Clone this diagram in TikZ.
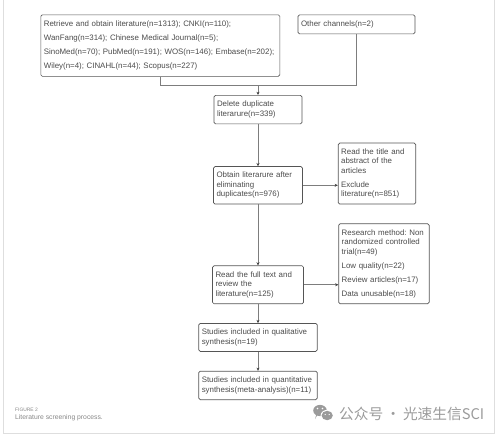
\documentclass[tikz,border=0pt]{standalone}
\usepackage{fontspec}
\setmainfont{Liberation Sans}
\newfontfamily\cjkfont{Noto Sans CJK SC}
\usepackage{tikz}
\usetikzlibrary{arrows.meta,positioning,calc}
\definecolor{boxline}{RGB}{85,85,85}
\definecolor{boxtext}{RGB}{75,75,75}
\definecolor{arrline}{RGB}{125,125,125}
\definecolor{framegray}{RGB}{222,222,222}
\definecolor{capgray}{RGB}{135,135,135}
\definecolor{markgray}{RGB}{155,155,155}
\frenchspacing
\tikzset{
  flowbox/.style={rectangle,rounded corners=1.5pt,draw=boxline,line width=0.7pt,align=left,
    text=boxtext,font=\fontsize{7.9}{9.6}\selectfont,inner xsep=3pt,inner ysep=0pt,anchor=north west},
  arr/.style={-{Stealth[length=3.2pt,width=3pt,color=black!75]},line width=0.9pt,color=arrline},
  plainline/.style={line width=0.9pt,color=arrline},
  captext/.style={color=capgray,inner sep=0pt,anchor=west}
}
\begin{document}
\begin{tikzpicture}
  \useasboundingbox (0pt,0pt) rectangle (498pt,-434pt);
  \node[draw=framegray,line width=0.8pt,minimum width=491pt,minimum height=434pt,anchor=north west] (frame) at (2.5pt,1.5pt) {};

  \node[flowbox,text width=233pt,minimum height=61.5pt] (retrieve) at (40.5pt,-14.5pt)
    {Retrieve and obtain literature(n=1313); CNKI(n=110);\\[4.4pt]
     WanFang(n=314); Chinese Medical Journal(n=5);\\[4.4pt]
     SinoMed(n=70); PubMed(n=191); WOS(n=146); Embase(n=202);\\[4.4pt]
     Wiley(n=4); CINAHL(n=44); Scopus(n=227)};
  \node[flowbox,text width=111pt,minimum height=19pt,right=17.5pt of retrieve.north east,anchor=north west] (other) {Other channels(n=2)};

  \coordinate (join) at (258pt,-85.5pt);

  \node[flowbox,text width=82pt,minimum height=28.5pt,below=9.5pt of join,anchor=north] (delete) {Delete duplicate\\literarure(n=339)};
  \node[flowbox,text width=83pt,minimum height=37.5pt,below=42pt of delete,anchor=north] (obtain) {Obtain literarure after\\eliminating\\duplicates(n=976)};
  \node[flowbox,text width=71.5pt,minimum height=61pt,right=35pt of obtain.south east,anchor=south west] (title)
    {Read the title and\\abstract of the\\articles\\[4.4pt]Exclude\\literature(n=851)};
  \node[flowbox,text width=85pt,minimum height=38pt,below=61pt of obtain,anchor=north] (full) {Read the full text and\\review the\\literature(n=125)};
  \node[flowbox,text width=84.5pt,minimum height=80pt,right=34.5pt of full.south east,anchor=south west] (reasons)
    {Research method: Non\\randomized controlled\\trial(n=49)\\[4.4pt]Low quality(n=22)\\[4.4pt]Review articles(n=17)\\[4.4pt]Data unusable(n=18)};
  \node[flowbox,text width=112.5pt,minimum height=28pt,below=19pt of full,anchor=north] (qual) {Studies included in qualitative\\synthesis(n=19)};
  \node[flowbox,text width=112.5pt,minimum height=28.5pt,below=19pt of qual,anchor=north] (quant) {Studies included in quantitative\\synthesis(meta-analysis)(n=11)};

  \draw[plainline] (retrieve.south) |- (join);
  \draw[plainline] (other.south) |- (join);
  \draw[arr] (join)--(delete);
  \draw[arr] (delete)--(obtain);
  \draw[arr] (obtain.east)--(obtain.east -| title.west);
  \draw[arr] (obtain)--(full);
  \draw[arr] (full.east)--(full.east -| reasons.west);
  \draw[arr] (full)--(qual);
  \draw[arr] (qual)--(quant);

  \node[captext,font=\fontsize{4.9}{5}\selectfont] (figlabel) at (15pt,-409.5pt) {FIGURE 2};
  \node[captext,font=\fontsize{6.8}{7}\selectfont,below=3pt of figlabel.south west,anchor=north west] (figcap) {Literature screening process.};

  % watermark
  \fill[markgray] (320pt,-410.5pt) ellipse (6.8pt and 5.6pt);
  \fill[markgray] (320pt,-410.5pt) -- (315pt,-419pt) -- (317pt,-412pt) -- cycle;
  \fill[white] (327.2pt,-415.5pt) ellipse (6.6pt and 5.6pt);
  \fill[markgray] (327.2pt,-415.5pt) ellipse (5.6pt and 4.7pt);
  \fill[white] (317.5pt,-408.5pt) circle (0.9pt) (322.5pt,-408.5pt) circle (0.9pt);
  \fill[white] (325.2pt,-414.5pt) circle (0.7pt) (329.2pt,-414.5pt) circle (0.7pt);
  \node[anchor=west,inner sep=0pt,color=markgray,font=\cjkfont\fontsize{14.7}{16}\selectfont] (mark) at (339pt,-414pt) {公众号\hspace{2.5pt}·\hspace{2.5pt}光速生信SCI};
\end{tikzpicture}
\end{document}
